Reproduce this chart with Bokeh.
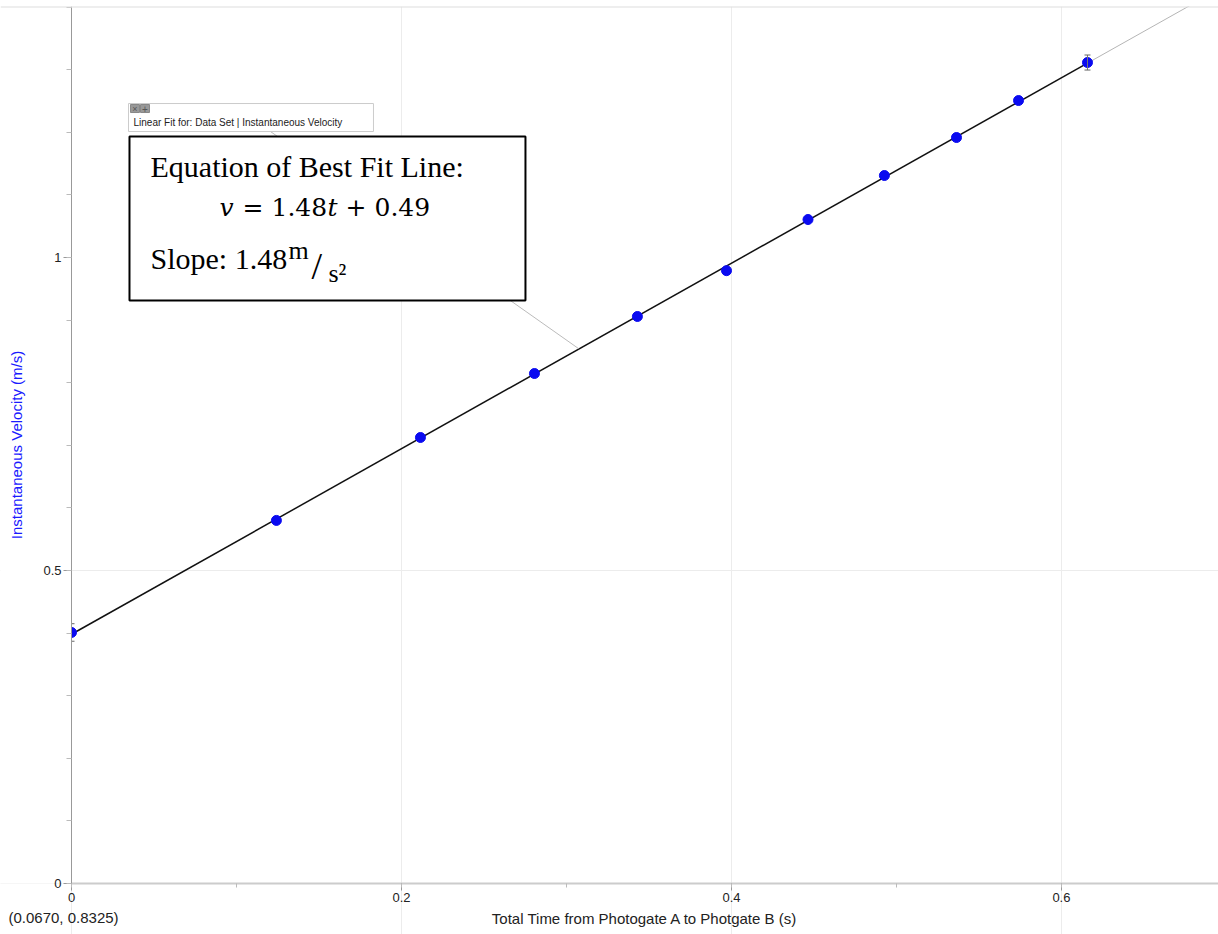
import numpy as np
from bokeh.plotting import figure
from bokeh.models import (Range1d, SingleIntervalTicker, CustomJSTickFormatter, Label,
                          BoxAnnotation, Arrow, Whisker, ColumnDataSource, TeeHead, Span)
from bokeh.embed import file_html
from bokeh.resources import INLINE

# ---------------- data ----------------
t = [0.0, 0.1242, 0.2115, 0.2806, 0.3430, 0.3970, 0.4464, 0.4927, 0.5364, 0.5740, 0.6158]
v = [0.401, 0.580, 0.7125, 0.8147, 0.9058, 0.979, 1.0607, 1.131, 1.1917, 1.2508, 1.3115]
err_idx = [0, 10]
err_val = [0.014, 0.012]

x_title = "Total Time from Photogate A to Photgate B (s)"
y_title = "Instantaneous Velocity (m/s)"
fit_label = "Linear Fit for: Data Set | Instantaneous Velocity"
cursor_text = "(0.0670, 0.8325)"

X_MAX = 0.6952
Y_MAX = 1.401

# pixel helpers (reference pixels -> data) for annotation placement
def px2x(px):
    return (px - 71) / 1650.0

def py2y(py):
    return (883 - py) / 626.0

# the frame covers the whole canvas below the top strip; both axes sit at 0
p = figure(width=1218, height=934, output_backend="svg", toolbar_location=None,
           x_range=Range1d(px2x(0), X_MAX), y_range=Range1d(py2y(934), Y_MAX),
           min_border_left=0, min_border_right=0, min_border_top=6, min_border_bottom=0)
p.outline_line_color = None
p.background_fill_color = "white"

fmt = CustomJSTickFormatter(code="return String(Math.round(tick*100)/100);")
p.xaxis.ticker = SingleIntervalTicker(interval=0.2, num_minor_ticks=2)
p.yaxis.ticker = SingleIntervalTicker(interval=0.5, num_minor_ticks=5)
p.xgrid.ticker = p.xaxis.ticker
p.ygrid.ticker = p.yaxis.ticker
p.xaxis.formatter = fmt
p.yaxis.formatter = fmt
p.grid.grid_line_color = "#ececec"
p.xgrid.bounds = (0, Y_MAX)
p.ygrid.bounds = (0, X_MAX)

for ax in (p.xaxis[0], p.yaxis[0]):
    ax.fixed_location = 0
    ax.major_label_text_font = "Liberation Sans"
    ax.major_label_text_font_size = "13px"
    ax.major_label_text_color = "#222222"
    ax.axis_label_text_font = "Liberation Sans"
    ax.axis_label_text_font_size = "15px"
    ax.axis_label_text_font_style = "normal"
    ax.major_tick_in = 0
    ax.minor_tick_in = 0
    ax.major_tick_line_color = "#999999"
    ax.minor_tick_line_color = "#bbbbbb"

p.xaxis.bounds = (0, X_MAX)
p.xaxis.axis_label = x_title
p.xaxis.axis_label_text_color = "#222222"
p.xaxis.axis_line_color = "#cccccc"
p.xaxis.axis_line_width = 2
p.xaxis.major_tick_out = 7
p.xaxis.minor_tick_out = 4
p.xaxis.major_label_standoff = 2
p.xaxis.axis_label_standoff = 5

p.yaxis.bounds = (0, Y_MAX)
p.yaxis.axis_label = y_title
p.yaxis.axis_label_text_color = "#1a1aff"
p.yaxis.axis_line_color = "#999999"
p.yaxis.major_tick_out = 8
p.yaxis.minor_tick_out = 5
p.yaxis.major_label_standoff = 2
p.yaxis.axis_label_standoff = 15

# top edge of the plotting area
p.add_layout(Span(location=Y_MAX, dimension="width", line_color="#dddddd", line_width=2))

# ---------------- fit line ----------------
slope, intercept = np.polyfit(t, v, 1)
tx = np.array([t[0], t[-1]])
p.line(tx, slope * tx + intercept, line_color="#111111", line_width=1.5)
te = np.array([t[-1], X_MAX])
p.line(te, slope * te + intercept, line_color="#b5b5b5", line_width=1)

# leader line from fit label to the fit line
p.add_layout(Arrow(end=None, x_start=px2x(270), y_start=py2y(131),
                   x_end=px2x(578), y_end=py2y(348),
                   line_color="#bbbbbb", line_width=1))

# ---------------- error bars + points ----------------
esrc = ColumnDataSource(dict(
    x=[t[i] for i in err_idx],
    lo=[v[i] - e for i, e in zip(err_idx, err_val)],
    hi=[v[i] + e for i, e in zip(err_idx, err_val)]))
p.add_layout(Whisker(source=esrc, base="x", lower="lo", upper="hi", dimension="height",
                     line_color="#777777", line_width=1,
                     upper_head=TeeHead(size=6, line_color="#666666"),
                     lower_head=TeeHead(size=6, line_color="#666666"), level="glyph"))
p.scatter(t, v, size=10, fill_color="#0a0af0", line_color="#0a0af0")

# white mask left of the y axis (the data area starts at t = 0)
p.add_layout(BoxAnnotation(right=0, bottom=0, fill_color="white", fill_alpha=1,
                           line_alpha=0, level="glyph"))

# ---------------- fit label box ----------------
def box(l, r, tp, b, fill, line, lw=1):
    p.add_layout(BoxAnnotation(left=px2x(l), right=px2x(r), top=py2y(tp), bottom=py2y(b),
                               fill_color=fill, fill_alpha=1, line_color=line,
                               line_alpha=1, line_width=lw))

box(128, 373, 103, 131, "white", "#cccccc")
box(130, 139, 104, 112, "#999999", "#888888")
box(140, 149, 104, 112, "#999999", "#888888")
p.add_layout(Label(x=px2x(134.5), y=py2y(108), text="×", text_font="Liberation Sans",
                   text_font_size="9px", text_color="#555555", text_align="center",
                   text_baseline="middle"))
p.add_layout(Label(x=px2x(144.5), y=py2y(108), text="+", text_font="Liberation Sans",
                   text_font_size="10px", text_color="#555555", text_align="center",
                   text_baseline="middle"))
p.add_layout(Label(x=px2x(133), y=py2y(122), text=fit_label, text_font="Liberation Sans",
                   text_font_size="10px", text_color="#222222", text_baseline="middle"))

# ---------------- equation box ----------------
box(129, 525, 136, 300, "white", "black", 2)

def txt(px, base, s, size=30, style="normal", font="Liberation Serif"):
    # base: wanted baseline in pixels; correct for Bokeh's baseline placement
    p.add_layout(Label(x=px2x(px), y=py2y(base - 0.34 * size), text=s, text_font=font,
                       text_font_size=f"{size}px", text_font_style=style,
                       text_color="black", text_baseline="alphabetic", text_align="left"))

DV = "DejaVu Serif"
txt(150, 176, "Equation of Best Fit Line:")
txt(219, 215, "v", size=25, style="italic", font=DV)
txt(242, 215, "=", size=25, font=DV)
txt(271, 215, "1.48", size=25, font=DV)
txt(327, 215, "t", size=25, style="italic", font=DV)
txt(345, 215, "+", size=25, font=DV)
txt(374, 215, "0.49", size=25, font=DV)
txt(150, 268, "Slope: 1.48")
txt(288, 259, "m", size=26)
txt(311, 278, "/", size=38)
txt(328, 282, "s²", size=26)

# cursor coordinate readout below the axis
p.add_layout(Label(x=px2x(8), y=py2y(917), text=cursor_text,
                   text_font="Liberation Sans", text_font_size="15px", text_color="#222222",
                   text_baseline="middle", text_align="left"))

open("out.html", "w").write(file_html(p, INLINE))
